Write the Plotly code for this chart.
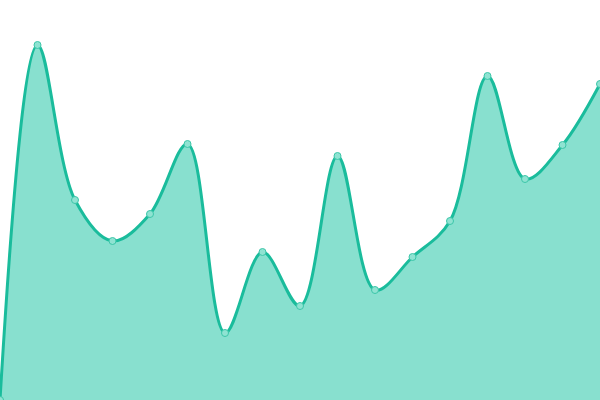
import plotly.graph_objects as go

x_vals = list(range(17))
y_vals = [0, 355, 200, 159, 186, 256, 67, 148, 94, 244, 110, 143, 179, 324, 221, 255, 316]

fig = go.Figure()

fig.add_trace(go.Scatter(
    x=x_vals,
    y=y_vals,
    mode="lines+markers",
    line=dict(color="#1abc9c", width=3, shape="spline", smoothing=1),
    fill="tozeroy",
    fillcolor="#88e0cf",
    marker=dict(size=7, color="#8fe3d2", line=dict(color="#3cc6a9", width=1)),
    hoverinfo="x+y",
    showlegend=False,
    cliponaxis=False,
))

fig.update_layout(
    width=600,
    height=400,
    margin=dict(l=0, r=0, t=0, b=0),
    plot_bgcolor="white",
    paper_bgcolor="white",
    xaxis=dict(visible=False, range=[0, 16]),
    yaxis=dict(visible=False, range=[0, 400]),
)

# drop the browser's default body margin so the plot sits at 0,0
fig.write_html(
    "out.html",
    config={"displayModeBar": False},
    post_script="document.body.style.margin='0';document.body.style.overflow='hidden';",
)
